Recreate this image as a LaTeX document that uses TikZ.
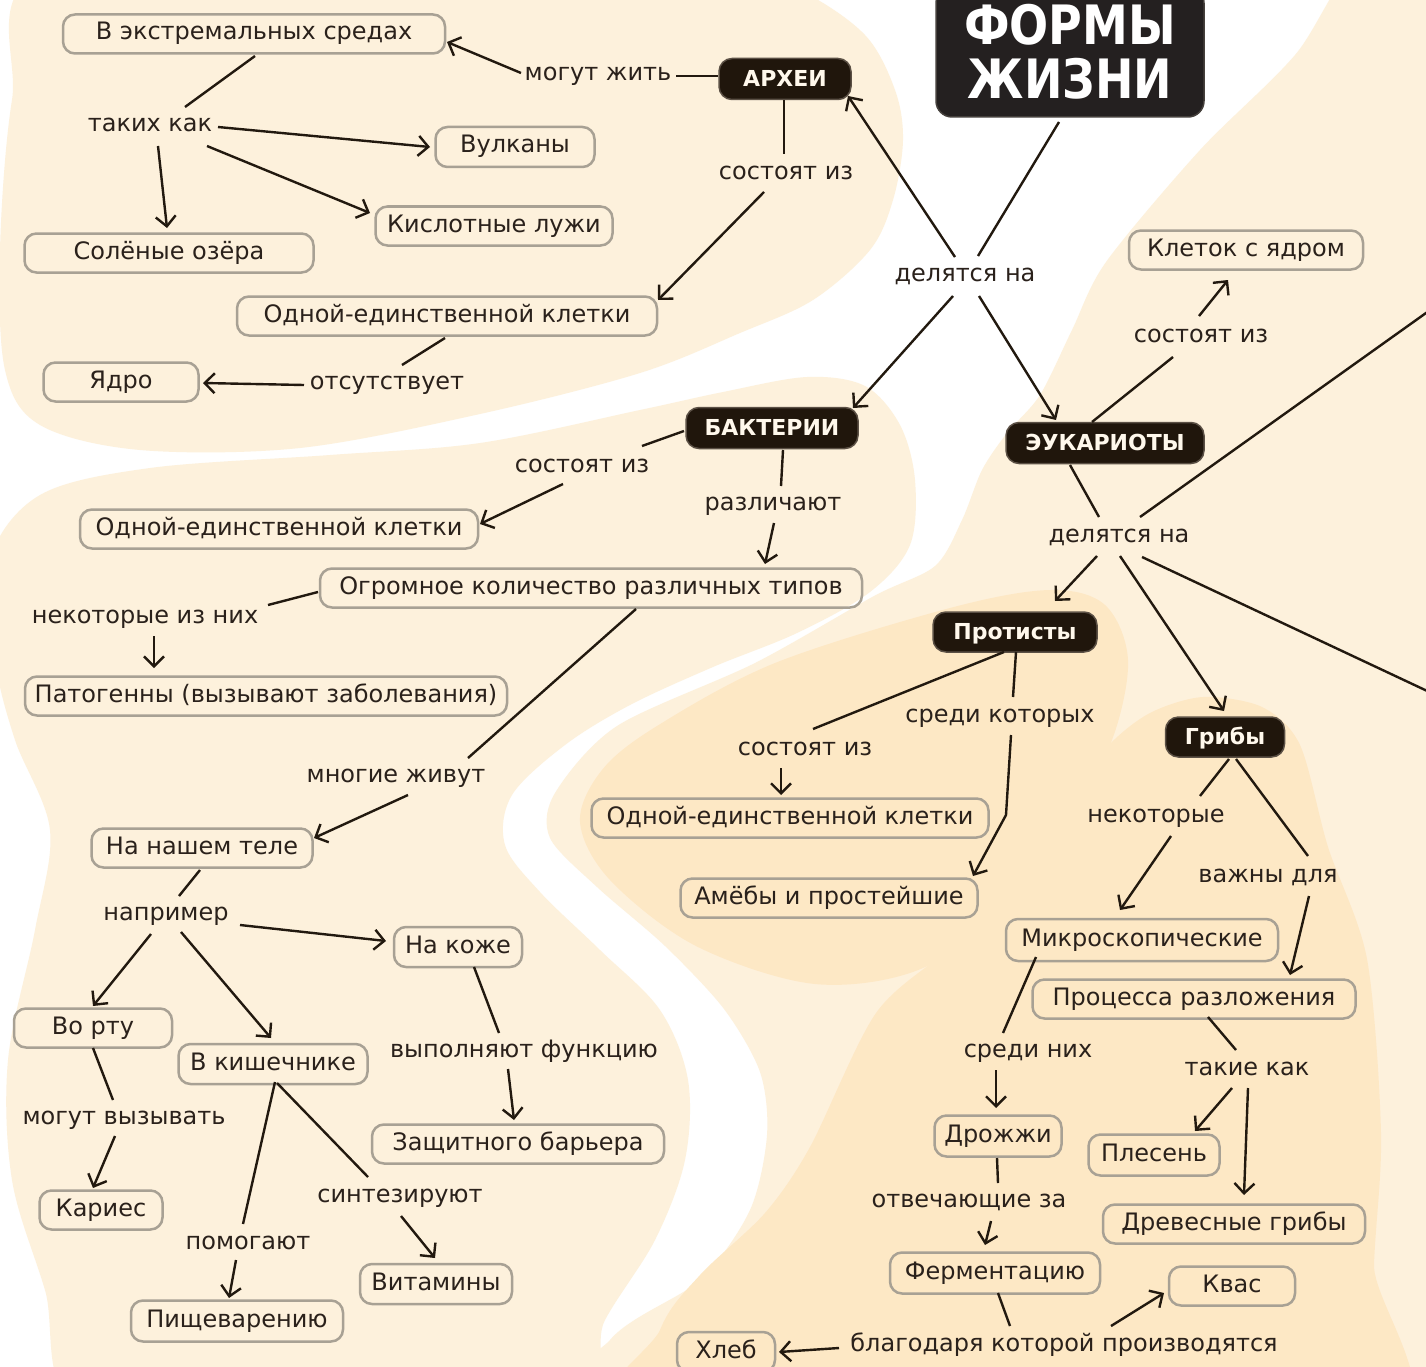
\documentclass[tikz,border=0pt]{standalone}
\usepackage{fontspec}
\setmainfont{DejaVu Sans}
\usetikzlibrary{arrows.meta}
\definecolor{cream}{HTML}{FDF1DC}
\definecolor{creamd}{HTML}{FDE8C5}
\definecolor{ink}{HTML}{2A211B}
\definecolor{lineink}{HTML}{22190F}
\definecolor{boxgray}{HTML}{A8A194}
\definecolor{darkfill}{HTML}{20160C}
\definecolor{darkedge}{HTML}{5B5045}
\definecolor{titlefill}{HTML}{242020}
\definecolor{titleedge}{HTML}{45403C}
\definecolor{whitetext}{HTML}{FFF8EC}
\newcommand{\conn}[7][]{\draw[cline,#1] ([shift={(#3,#4)}]#2.center) -- ([shift={(#6,#7)}]#5.center);}
\begin{document}
\begin{tikzpicture}[x=1pt,y=-1pt,
  box/.style={draw=boxgray, line width=2.5pt, rounded corners=12pt, minimum height=39pt, inner sep=0pt, text=ink, font=\fontsize{24}{28}\selectfont, text height=17pt, text depth=5pt},
  dbox/.style={draw=darkedge, fill=darkfill, line width=1.5pt, rounded corners=13pt, minimum height=41pt, inner sep=0pt, text=whitetext, font=\fontsize{22}{26}\selectfont\bfseries, text height=16pt, text depth=1pt},
  lbl/.style={text=ink, inner sep=2pt, font=\fontsize{24}{28}\selectfont, text height=17pt, text depth=5pt},
  cline/.style={draw=lineink, line width=2.4pt},
  arr/.style={-{Straight Barb[length=10pt,width=20pt]}}
]
\useasboundingbox (0,0) rectangle (1426,1367);
\clip (0,0) rectangle (1426,1367);
\fill[white] (0,0) rectangle (1426,1367);
% background blobs
\fill[cream] plot[smooth cycle, tension=0.55] coordinates {(45,-30) (12,100) (0,250) (5,370) (40,425) (140,450) (300,448) (480,414) (640,373) (740,333) (813,300) (870,250) (893,200) (903,140) (895,90) (865,35) (800,-10) (700,-50) (400,-60)};
\fill[cream] plot[smooth cycle, tension=0.55] coordinates {(-10,560) (40,495) (150,468) (330,455) (480,443) (640,410) (723,392) (807,377) (865,386) (900,425) (915,480) (910,545) (870,592) (797,633) (713,667) (630,705) (565,745) (512,795) (505,845) (540,892) (600,950) (660,1010) (688,1080) (685,1160) (655,1240) (605,1320) (570,1400) (300,1430) (80,1410) (45,1290) (12,1180) (8,1060) (35,930) (50,830) (15,740) (-5,660)};
\fill[cream] plot[smooth cycle, tension=0.5] coordinates {(1380,-60) (1550,-60) (1550,1450) (560,1450) (610,1340) (700,1280) (750,1210) (767,1135) (760,1072) (724,1009) (665,946) (597,887) (550,838) (555,793) (617,726) (755,663) (874,596) (935,566) (962,520) (982,470) (1007,433) (1040,395) (1072,330) (1106,262) (1200,150) (1295,55)};
\fill[creamd] plot[smooth cycle, tension=0.55] coordinates {(580,822) (602,770) (657,726) (775,663) (950,608) (1050,590) (1105,605) (1128,660) (1112,740) (1070,813) (1008,900) (923,968) (815,984) (696,946) (610,880)};
\fill[creamd] plot[smooth cycle, tension=0.5] coordinates {(630,1450) (660,1330) (700,1275) (765,1213) (810,1147) (876,1013) (951,947) (1015,880) (1056,813) (1107,747) (1150,713) (1203,697) (1262,707) (1300,745) (1328,847) (1367,959) (1381,1133) (1374,1264) (1368,1450)};
% title
\node[draw=titleedge, fill=titlefill, line width=1.5pt, rounded corners=16pt, minimum width=268pt, minimum height=130pt, inner sep=0pt, text=white, align=center, font=\fontsize{46}{56}\selectfont\bfseries] (title) at (1070,52) {\scalebox{1}[1.18]{ФОРМЫ}\\[-2pt]\scalebox{1}[1.18]{ЖИЗНИ}};
% dark nodes
\node[dbox, minimum width=132pt] (arch) at (785,79) {АРХЕИ};
\node[dbox, minimum width=172pt] (bact) at (772,428) {БАКТЕРИИ};
\node[dbox, minimum width=198pt] (euk) at (1105,443) {ЭУКАРИОТЫ};
\node[dbox, minimum width=164pt, minimum height=40pt] (prot) at (1015,632) {Протисты};
\node[dbox, minimum width=119pt, minimum height=40pt] (grib) at (1225,737) {Грибы};
% boxes
\node[box, minimum width=382pt] (vext) at (254,34) {В экстремальных средах};
\node[box, minimum width=159pt, minimum height=40pt] (vulk) at (515,147) {Вулканы};
\node[box, minimum width=237pt] (kisl) at (494,226) {Кислотные лужи};
\node[box, minimum width=289pt] (sol) at (169,253) {Солёные озёра};
\node[box, minimum width=420pt] (odn1) at (447,316) {Одной-единственной клетки};
\node[box, minimum width=155pt] (yadro) at (121,382) {Ядро};
\node[box, minimum width=234pt] (klet) at (1246,250) {Клеток с ядром};
\node[box, minimum width=398pt] (odn2) at (279,529) {Одной-единственной клетки};
\node[box, minimum width=542pt] (ogr) at (591,588) {Огромное количество различных типов};
\node[box, minimum width=482pt] (pat) at (266,696) {Патогенны (вызывают заболевания)};
\node[box, minimum width=221pt] (telo) at (202,848) {На нашем теле};
\node[box, minimum width=128pt, minimum height=40pt] (kozh) at (458,947) {На коже};
\node[box, minimum width=158pt] (rot) at (93,1028) {Во рту};
\node[box, minimum width=189pt, minimum height=40pt] (kish) at (273,1064) {В кишечнике};
\node[box, minimum width=292pt] (zasch) at (518,1144) {Защитного барьера};
\node[box, minimum width=123pt] (karies) at (101,1210) {Кариес};
\node[box, minimum width=152pt, minimum height=40pt] (vit) at (436,1284) {Витамины};
\node[box, minimum width=212pt, minimum height=41pt] (pisch) at (237,1321) {Пищеварению};
\node[box, minimum width=397pt] (odn3) at (790,818) {Одной-единственной клетки};
\node[box, minimum width=297pt] (ameb) at (829,898) {Амёбы и простейшие};
\node[box, minimum width=272pt, minimum height=42pt] (mikro) at (1142,940) {Микроскопические};
\node[box, minimum width=323pt] (proc) at (1194,999) {Процесса разложения};
\node[box, minimum width=127pt, minimum height=41pt] (drozh) at (998,1136) {Дрожжи};
\node[box, minimum width=131pt, minimum height=41pt] (plesen) at (1154,1155) {Плесень};
\node[box, minimum width=262pt] (drev) at (1234,1224) {Древесные грибы};
\node[box, minimum width=210pt, minimum height=41pt] (ferm) at (995,1273) {Ферментацию};
\node[box, minimum width=126pt] (kvas) at (1232,1286) {Квас};
\node[box, minimum width=98pt, minimum height=40pt] (hleb) at (726,1352) {Хлеб};
% labels
\node[lbl] (mzh) at (598,75) {могут жить};
\node[lbl] (tk) at (150,126) {таких как};
\node[lbl] (sa) at (786,173) {состоят из};
\node[lbl] (ots) at (387,383) {отсутствует};
\node[lbl] (del) at (965,275) {делятся на};
\node[lbl] (se) at (1201,336) {состоят из};
\node[lbl] (de) at (1119,536) {делятся на};
\node[lbl] (sb) at (582,466) {состоят из};
\node[lbl] (raz) at (773,504) {различают};
\node[lbl] (nekiz) at (145,617) {некоторые из них};
\node[lbl] (mnog) at (396,776) {многие живут};
\node[lbl] (napr) at (166,914) {например};
\node[lbl] (vyp) at (524,1051) {выполняют функцию};
\node[lbl] (mv) at (124,1118) {могут вызывать};
\node[lbl] (sin) at (400,1196) {синтезируют};
\node[lbl] (pom) at (248,1243) {помогают};
\node[lbl] (srk) at (1000,716) {среди которых};
\node[lbl] (sp) at (805,749) {состоят из};
\node[lbl] (nek) at (1156,816) {некоторые};
\node[lbl] (vazh) at (1268,876) {важны для};
\node[lbl] (srn) at (1028,1051) {среди них};
\node[lbl] (tak) at (1247,1069) {такие как};
\node[lbl] (otv) at (969,1201) {отвечающие за};
\node[lbl] (blag) at (1064,1345) {благодаря которой производятся};
\coordinate (offA) at (1440,303);
\coordinate (offB) at (1440,697);
% connectors
\conn{arch}{-67}{-3}{mzh}{78}{1}
\conn[arr]{mzh}{-77}{-2}{vext}{193}{8}
\conn{vext}{1}{22}{tk}{35}{-19}
\conn[arr]{tk}{68}{1}{vulk}{-85}{0}
\conn[arr]{tk}{8}{20}{sol}{-2}{-25}
\conn[arr]{tk}{57}{20}{kisl}{-124}{-13}
\conn{arch}{-1}{21}{sa}{-2}{-19}
\conn[arr]{sa}{-22}{19}{odn1}{211}{-16}
\conn{odn1}{-2}{22}{ots}{15}{-18}
\conn[arr]{ots}{-83}{2}{yadro}{82}{1}
\conn{title}{-11}{70}{del}{13}{-19}
\conn[arr]{del}{-10}{-18}{arch}{63}{17}
\conn[arr]{del}{-12}{21}{bact}{81}{-20}
\conn[arr]{del}{14}{21}{euk}{-49}{-23}
\conn{euk}{-13}{-21}{se}{-28}{21}
\conn[arr]{se}{-2}{-20}{klet}{-18}{30}
\conn{euk}{-35}{22}{de}{-20}{-19}
\conn[arr]{de}{-22}{20}{prot}{40}{-31}
\conn[arr]{de}{1}{20}{grib}{-1}{-26}
\conn{de}{21}{-19}{offA}{0}{0}
\conn{de}{23}{21}{offB}{0}{0}
\conn{bact}{-88}{3}{sb}{60}{-20}
\conn[arr]{sb}{-19}{18}{odn2}{201}{-5}
\conn{bact}{11}{22}{raz}{8}{-18}
\conn[arr]{raz}{1}{19}{ogr}{174}{-24}
\conn{ogr}{-273}{4}{nekiz}{123}{-12}
\conn[arr]{nekiz}{9}{19}{pat}{-112}{-28}
\conn{ogr}{45}{21}{mnog}{72}{-18}
\conn[arr]{mnog}{12}{19}{telo}{112}{-10}
\conn{telo}{-2}{22}{napr}{13}{-18}
\conn[arr]{napr}{74}{11}{kozh}{-72}{-6}
\conn[arr]{napr}{-15}{20}{rot}{0}{-22}
\conn[arr]{napr}{15}{18}{kish}{-2}{-26}
\conn{kozh}{16}{20}{vyp}{-25}{-18}
\conn[arr]{vyp}{-16}{18}{zasch}{-4}{-24}
\conn{rot}{0}{20}{mv}{-11}{-18}
\conn[arr]{mv}{-9}{18}{karies}{-8}{-22}
\conn{kish}{2}{18}{pom}{-5}{-19}
\conn[arr]{pom}{-12}{17}{pisch}{-8}{-23}
\conn{kish}{4}{19}{sin}{-32}{-19}
\conn[arr]{sin}{1}{20}{vit}{-1}{-26}
\conn{prot}{-11}{20}{sp}{8}{-20}
\conn[arr]{sp}{-24}{19}{odn3}{-9}{-23}
\conn{prot}{1}{20}{srk}{13}{-19}
\draw[cline,arr] ([shift={(11,19)}]srk.center) -- ++(-5,80) -- ([shift={(144,-22)}]ameb.center);
\conn{grib}{4}{22}{nek}{44}{-20}
\conn[arr]{nek}{15}{20}{mikro}{-22}{-30}
\conn{grib}{11}{22}{vazh}{40}{-20}
\conn[arr]{vazh}{41}{20}{proc}{96}{-24}
\conn{mikro}{-106}{17}{srn}{-25}{-18}
\conn[arr]{srn}{-32}{19}{drozh}{-2}{-28}
\conn{proc}{14}{18}{tak}{-11}{-19}
\conn[arr]{tak}{-15}{19}{plesen}{41}{-24}
\conn[arr]{tak}{1}{19}{drev}{10}{-29}
\conn{drozh}{-1}{22}{otv}{29}{-18}
\conn[arr]{otv}{22}{20}{ferm}{-10}{-28}
\conn{ferm}{3}{20}{blag}{-54}{-19}
\conn[arr]{blag}{47}{-19}{kvas}{-68}{7}
\conn[arr]{blag}{-225}{3}{hleb}{53}{0}
\end{tikzpicture}
\end{document}
